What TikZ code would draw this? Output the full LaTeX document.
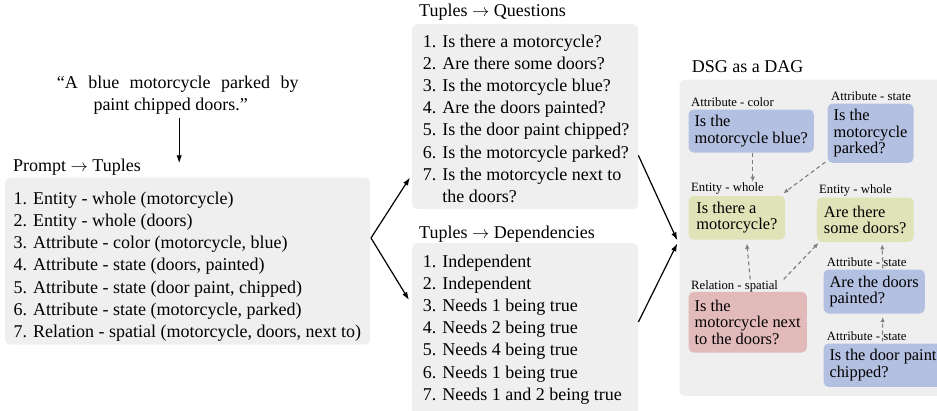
\documentclass[tikz,border=0pt]{standalone}
\usepackage{fontspec}
\setmainfont{Liberation Serif}
\usetikzlibrary{arrows.meta,calc}
\definecolor{bggray}{RGB}{239,239,239}
\definecolor{cblue}{RGB}{180,192,225}
\definecolor{cyellow}{RGB}{224,226,183}
\definecolor{cred}{RGB}{226,186,186}
\definecolor{depgray}{RGB}{125,125,125}
\begin{document}
\begin{tikzpicture}[x=1pt,y=-1pt,
  panel/.style={fill=bggray, rounded corners=5pt, draw=none, inner sep=0pt, anchor=north west},
  bigtext/.style={font=\fontsize{18}{22.2}\selectfont, inner sep=0pt},
  listtext/.style={bigtext, align=left, anchor=north west},
  headtext/.style={bigtext, anchor=base west},
  qbox/.style={rounded corners=5pt, anchor=north west, align=left, inner xsep=6pt, inner ysep=0pt, font=\fontsize{16.4}{16.5}\selectfont},
  smalllabel/.style={font=\fontsize{12.7}{14}\selectfont, inner sep=0pt, anchor=base west},
  arr/.style={-{Latex[length=8pt,width=5.5pt]}, line width=1.2pt, black},
  dep/.style={-{Latex[length=5pt,width=4.5pt]}, line width=1.1pt, depgray, dash pattern=on 4pt off 3pt}
]
\useasboundingbox (0,0) rectangle (937,410);

% ---------- prompt and tuples ----------
\node[bigtext, align=left, anchor=north west, font=\fontsize{18}{22.6}\selectfont] (quote) at (56.7,75.5) {\makebox[241.6pt][s]{“A blue motorcycle parked by}\\\hspace*{36.6pt}paint chipped doors.”};
\node[headtext] (ttitle) at (13,171.7) {Prompt $\rightarrow$ Tuples};
\node[panel, minimum width=365pt, minimum height=167pt] (tbox) at (5,177.3) {};
\node[listtext] (tlist) at (13.5,191.7) {1. Entity - whole (motorcycle)\\
2. Entity - whole (doors)\\
3. Attribute - color (motorcycle, blue)\\
4. Attribute - state (doors, painted)\\
5. Attribute - state (door paint, chipped)\\
6. Attribute - state (motorcycle, parked)\\
7. Relation - spatial (motorcycle, doors, next to)};

% ---------- questions ----------
\node[headtext] (qtitle) at (419,16.7) {Tuples $\rightarrow$ Questions};
\node[panel, minimum width=226pt, minimum height=185pt] (qpanel) at (412,24) {};
\node[listtext] (qlist) at (422.7,34.4) {1. Is there a motorcycle?\\
2. Are there some doors?\\
3. Is the motorcycle blue?\\
4. Are the doors painted?\\
5. Is the door paint chipped?\\
6. Is the motorcycle parked?\\
7. Is the motorcycle next to\\
\hphantom{7. }the doors?};

% ---------- dependencies ----------
\node[headtext] (dtitle) at (419,238.3) {Tuples $\rightarrow$ Dependencies};
\node[panel, minimum width=226pt, minimum height=175pt] (dpanel) at (412,243) {};
\node[listtext] (dlist) at (422.7,254.4) {1. Independent\\
2. Independent\\
3. Needs 1 being true\\
4. Needs 2 being true\\
5. Needs 4 being true\\
6. Needs 1 being true\\
7. Needs 1 and 2 being true};

% ---------- DSG ----------
\node[headtext] (gtitle) at (691.7,72.7) {DSG as a DAG};
\node[panel, minimum width=270pt, minimum height=316.7pt] (gpanel) at (679.3,79.3) {};

\node[smalllabel] (lcolor) at (691,106.7) {Attribute - color};
\node[qbox, fill=cblue, minimum width=121.7pt, minimum height=43pt] (qcolor) at (688.3,109.3) {Is the\\motorcycle blue?};

\node[smalllabel] (lpark) at (831,100.7) {Attribute - state};
\node[qbox, fill=cblue, minimum width=86pt, minimum height=59.4pt] (qpark) at (827.3,103.3) {Is the\\motorcycle\\parked?};

\node[smalllabel] (lwhole1) at (691,191.7) {Entity - whole};
\node[qbox, fill=cyellow, minimum width=96.7pt, minimum height=43.6pt] (qwhole1) at (688.3,195.7) {Is there a\\motorcycle?};

\node[smalllabel] (lwhole2) at (819,193.3) {Entity - whole};
\node[qbox, fill=cyellow, minimum width=96.6pt, minimum height=44.4pt] (qdoors) at (816.7,197.3) {Are there\\some doors?};

\node[smalllabel] (lrel) at (691,289.3) {Relation - spatial};
\node[qbox, fill=cred, minimum width=118.4pt, minimum height=60.6pt] (qrel) at (688.3,291.7) {Is the\\motorcycle next\\to the doors?};

\node[smalllabel] (lpaint) at (826.7,266.7) {Attribute - state};
\node[qbox, fill=cblue, minimum width=100.7pt, minimum height=44pt] (qpaint) at (823.3,269.3) {Are the doors\\painted?};

\node[smalllabel] (lchip) at (826.7,340.7) {Attribute - state};
\node[qbox, fill=cblue, minimum width=119pt, minimum height=43.4pt] (qchip) at (823.3,343.3) {Is the door paint\\chipped?};

% ---------- dependency arrows ----------
\draw[dep] ([xshift=1.5pt]qcolor.south) -- ([xshift=1.5pt,yshift=1pt]lwhole1.north -| qcolor.south);
\draw[dep] ([xshift=-2pt,yshift=1pt]qpark.south west) -- ([xshift=-2pt,yshift=2.4pt]qwhole1.north east);
\draw[dep] ([xshift=2.5pt,yshift=12.4pt]qrel.north) -- ([xshift=10pt,yshift=-4pt]qwhole1.south);
\draw[dep] ([xshift=-23.4pt,yshift=12.4pt]qrel.north east) -- ([xshift=1.6pt,yshift=-1pt]qdoors.south west);
\draw[dep] ([xshift=8.6pt,yshift=1pt]qpaint.north) -- ([xshift=17pt,yshift=-2.3pt]qdoors.south);
\draw[dep] ([xshift=59pt,yshift=1.6pt]qchip.north west) -- ([xshift=8.6pt,yshift=-3.4pt]qpaint.south);

% ---------- flow arrows ----------
\draw[arr] ([xshift=1.5pt,yshift=-3pt]quote.south) -- ([xshift=1.5pt,yshift=14pt]tbox.north -| quote.south);
\coordinate (fork) at (371,238);
\draw[arr] (fork) -- ([xshift=-2pt,yshift=32pt]qpanel.south west);
\draw[arr] (fork) -- ([xshift=-3pt,yshift=-57pt]dpanel.north west);
\draw[arr] ([yshift=54pt]qpanel.south east) -- ([xshift=-2pt,yshift=-2.5pt]gpanel.west);
\draw[arr] ([yshift=-79pt]dpanel.north east) -- ([xshift=-2pt,yshift=-5.5pt]gpanel.west);
\end{tikzpicture}
\end{document}
